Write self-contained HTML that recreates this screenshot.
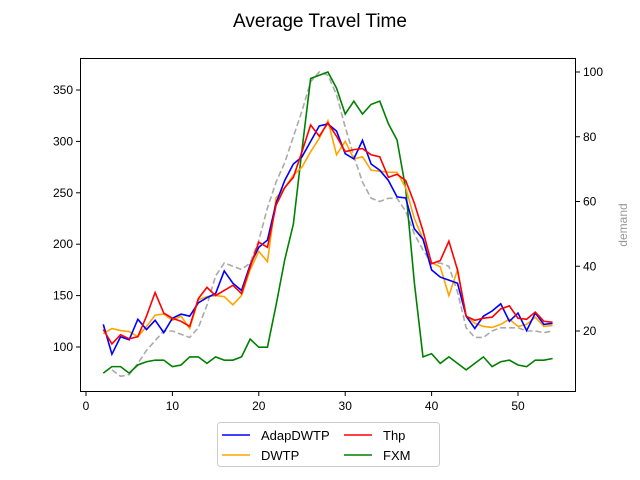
<!DOCTYPE html>
<html><head><meta charset="utf-8"><style>body{margin:0;background:#fff}svg{display:block;font-family:"Liberation Sans","DejaVu Sans",sans-serif}</style></head>
<body>
<svg id="c" width="640" height="480">
<text x="320" y="27" font-size="19" text-anchor="middle">Average Travel Time</text>
<text x="627" y="225" font-size="12" fill="#999" text-anchor="middle" transform="rotate(-90 627 225)">demand</text>
<g id="plot"></g>
<rect x="80.5" y="58.5" width="495" height="333" fill="none" stroke="#000" stroke-width="1"/>
<g>
<rect x="217.5" y="422.5" width="222" height="44" rx="3" fill="#fff" stroke="#ccc"/>
<g><line x1="222" x2="250" y1="435" y2="435" stroke="blue" stroke-width="1.5"/><text x="261" y="440" font-size="13">AdapDWTP</text></g>
<g><line x1="344" x2="372" y1="435" y2="435" stroke="red" stroke-width="1.5"/><text x="383" y="440" font-size="13">Thp</text></g>
<g><line x1="222" x2="250" y1="455" y2="455" stroke="orange" stroke-width="1.5"/><text x="261" y="460" font-size="13">DWTP</text></g>
<g><line x1="344" x2="372" y1="455" y2="455" stroke="green" stroke-width="1.5"/><text x="383" y="460" font-size="13">FXM</text></g>
</g>
</svg>
<script>
const xs=[2,3,4,5,6,7,8,9,10,11,12,13,14,15,16,17,18,19,20,21,22,23,24,25,26,27,28,29,30,31,32,33,34,35,36,37,38,39,40,41,42,43,44,45,46,47,48,49,50,51,52,53,54];
const adapDWTP=[122,93,110,107,127,117,126,114,128,132,130,143,148,152,174,162,155,180,197,204,240,262,278,285,300,315,317,310,288,283,301,278,272,262,246,245,215,205,175,168,165,162,130,118,130,135,142,125,133,116,133,122,123];
const dwtp=[113,118,116,115,110,120,131,132,126,130,118,146,149,150,149,141,150,175,193,183,245,255,267,275,290,303,320,287,300,283,285,272,271,270,270,255,225,205,182,178,150,175,130,123,120,119,122,127,120,122,129,120,121];
const thp=[117,103,112,108,110,130,153,133,128,125,120,147,158,150,155,160,152,178,202,197,238,255,265,290,316,305,318,305,290,292,293,287,285,265,268,262,240,213,181,184,203,175,130,126,128,129,137,140,128,127,134,125,124];
const fxm=[7,9,9,7,9.5,10.5,11,11,9,9.5,12,12,10,12,11,11,12,17.5,15,15,28,42,53,76,98,99,100,95,87,91,87,90,91,84,79,64,35,12,13,10,12,10,8,10,12,9,10.5,11,9.5,9,11,11,11.5];
const demandX=[3,4,5,6,7,8,9,10,11,12,13,14,15,16,17,18,19,20,21,22,23,24,25,26,27,28,29,30,31,32,33,34,35,36,37,38,39,40,41,42,43,44,45,46,47,48,49,50,51,52,53,54];
const demand=[8,6,6.5,10,14,17,20,20,19,18,21,28,37,41,40,39,41,48,58,66,72,80,88,97,100,99,93,83,74,66,61,60,61,61,57,50,45,41,41,40,32,21,18,18,20,21,21,21,20,20,19.5,20];
const xTicks=[0,10,20,30,40,50];
const yTicks=[100,150,200,250,300,350];
const y2Ticks=[20,40,60,80,100];
const X=v=>86+v*8.64, Y=v=>90+(350-v)*1.028, Y2=v=>72+(100-v)*3.2375;
const NS='http://www.w3.org/2000/svg', g=document.getElementById('plot');
function mk(t,a){const e=document.createElementNS(NS,t);for(const k in a)e.setAttribute(k,a[k]);g.appendChild(e);return e;}
xTicks.forEach(v=>{mk('line',{x1:X(v),x2:X(v),y1:392,y2:396,stroke:'#000'});
const t=mk('text',{x:X(v),y:410,'font-size':12,'text-anchor':'middle'});t.textContent=v;

});
yTicks.forEach(v=>{mk('line',{x1:76,x2:80,y1:Y(v),y2:Y(v),stroke:'#000'});
const t=mk('text',{x:73,y:Y(v)+4,'font-size':12,'text-anchor':'end'});t.textContent=v;

});
y2Ticks.forEach(v=>{mk('line',{x1:576,x2:580,y1:Y2(v),y2:Y2(v),stroke:'#000'});
const t=mk('text',{x:583,y:Y2(v)+4,'font-size':12}); t.textContent=v;

});
function line(xv,vals,sy,col,name,dash){const p=mk('polyline',{points:vals.map((v,i)=>X(xv[i])+','+sy(v)).join(' '),fill:'none',stroke:col,'stroke-width':1.6});
if(dash)p.setAttribute('stroke-dasharray','6,3');

}
line(demandX,demand,Y2,'#aaa','demand-line',true);
line(xs,fxm,Y2,'green','fxm-line');
line(xs,dwtp,Y,'orange','dwtp-line');
line(xs,adapDWTP,Y,'blue','adapdwtp-line');
line(xs,thp,Y,'red','thp-line');
</script>
</body></html>
